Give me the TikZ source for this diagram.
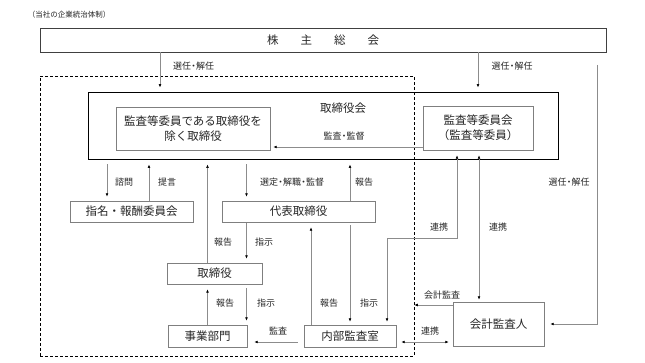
\documentclass[tikz,border=0pt]{standalone}
\usepackage{fontspec}
\setmainfont{Noto Sans CJK JP}
\usetikzlibrary{arrows.meta,calc}
\definecolor{boxgray}{HTML}{7F7F7F}
\definecolor{lingray}{HTML}{8C8C8C}
\definecolor{dark}{HTML}{404040}
\definecolor{txt}{HTML}{262626}
\newcommand\ndot{\kern-2pt・\kern-2pt}
\begin{document}
\begin{tikzpicture}[x=1pt,y=-1pt,
  >={Latex[length=3.4pt,width=2.8pt,color=black]},
  box/.style={draw=boxgray, line width=0.6pt, font=\fontsize{11.5}{15}\selectfont, text=txt, inner sep=0pt, align=center},
  lbl/.style={font=\fontsize{9}{10}\selectfont, text=txt, inner sep=0pt},
  arr/.style={draw=lingray, line width=0.6pt, ->},
  darr/.style={draw=lingray, line width=0.6pt, <->}]
\useasboundingbox (0,0) rectangle (645,363);
\fill[white] (0,0) rectangle (645,363);

% caption
\node[lbl, font=\fontsize{7.5}{9}\selectfont] (cap) at (69,15) {（当社の企業統治体制）};

% column / row helpers
\coordinate (x107) at (107,0);
\coordinate (x149) at (149,0);
\coordinate (x160) at (160,0);
\coordinate (x246) at (246.5,0);
\coordinate (x311) at (311,0);
\coordinate (x478) at (478,0);
\coordinate (x479) at (479,0);
\coordinate (y147) at (0,147);
\coordinate (y305) at (0,305);
\coordinate (y342) at (0,342);
\coordinate (k1) at (457,238);
\coordinate (k2) at (387,238);
\coordinate (rtop) at (597,65);

% dashed area
\node[draw=black, dash pattern=on 3pt off 2pt, line width=0.7pt, minimum width=374pt, minimum height=280pt, inner sep=0pt] (dash) at (227,216) {};

% boxes
\node[box, draw=dark, line width=0.9pt, minimum width=566pt, minimum height=24pt] (gm) at (323,40) {株\hspace{22pt}主\hspace{22pt}総\hspace{22pt}会};
\node[draw=black, line width=1pt, minimum width=470pt, minimum height=67pt, inner sep=0pt] (board) at (323,126.5) {};
\node[box, draw=none] (boardt) at (343,108) {取締役会};
\node[box, minimum width=154pt, minimum height=43pt] (inner) at (193,128.5) {監査等委員である取締役を\\除く取締役};
\node[box, minimum width=110pt, minimum height=44pt] (acc) at (478,128) {監査等委員会\\（監査等委員）};
\node[box, minimum width=123pt, minimum height=21pt] (nom) at (131.5,211.5) {指名・報酬委員会};
\node[box, minimum width=153pt, minimum height=21pt] (rep) at (298.5,211.5) {代表取締役};
\node[box, minimum width=95pt, minimum height=21pt] (dir) at (214.5,273.5) {取締役};
\node[box, minimum width=79pt, minimum height=22pt] (biz) at (207.5,336) {事業部門};
\node[box, minimum width=92pt, minimum height=22pt] (ia) at (350,336) {内部監査室};
\node[box, minimum width=91pt, minimum height=44pt] (ext) at (498.5,324) {会計監査人};

% connectors
\draw[arr, shorten >=5pt] (gm.south -| x160) -- (board.north -| x160);
\draw[arr, shorten >=5pt] (gm.south -| x478) -- (board.north -| x478);
\draw[arr, shorten >=6pt] (rtop) |- (ext.east);
\draw[arr, shorten >=3pt] (acc.west |- y147) -- (inner.east |- y147);
\draw[arr, shorten <=4pt, shorten >=4pt] (board.south -| x107) -- (nom.north -| x107);
\draw[arr, shorten >=4pt] (nom.north -| x149) -- (board.south -| x149);
\draw[arr, shorten >=4pt] (dir.north -| biz) -- (board.south -| biz);
\draw[arr, shorten <=4pt, shorten >=4pt] (board.south -| x246) -- (rep.north -| x246);
\draw[arr, shorten >=4pt] (rep.north -| ia) -- (board.south -| ia);
\draw[arr, shorten <=1pt, shorten >=4pt] (rep.south -| x246) -- (dir.north -| x246);
\draw[arr, shorten >=5pt] (biz.north) -- (dir.south -| biz);
\draw[arr, shorten <=4pt, shorten >=4pt] (dir.south -| x246) -- (biz.north -| x246);
\draw[arr, shorten <=6pt, shorten >=7pt] (ia.west |- y342) -- (biz.east |- y342);
\draw[arr, shorten >=5pt] (ia.north -| x311) -- (rep.south -| x311);
\draw[arr, shorten <=3pt, shorten >=3pt] (rep.south -| ia) -- (ia.north);
\draw[darr, shorten <=5pt, shorten >=3pt] (acc.south -| k1) -- (k1) -- (k2) -- (ia.north -| k2);
\draw[darr, shorten <=5pt, shorten >=2pt] (acc.south -| x479) -- (ext.north -| x479);
\draw[arr] (ext.west |- y305) -- (dash.east |- y305);
\draw[darr, shorten <=5pt, shorten >=4pt] (ia.east |- y342) -- (ext.west |- y342);

% labels
\node[lbl] (l1) at (193.5,66) {選任\ndot 解任};
\node[lbl] (l2) at (512,66) {選任\ndot 解任};
\node[lbl] (l3) at (569,182) {選任\ndot 解任};
\node[lbl] (l4) at (344,136) {監査\ndot 監督};
\node[lbl] (l5) at (124,182) {諮問};
\node[lbl] (l6) at (167,182) {提言};
\node[lbl] (l7) at (292,182) {選定\ndot 解職\ndot 監督};
\node[lbl] (l8) at (364,182) {報告};
\node[lbl] (l9) at (223,242) {報告};
\node[lbl] (l10) at (264,242) {指示};
\node[lbl] (l11) at (225,303) {報告};
\node[lbl] (l12) at (266,303) {指示};
\node[lbl] (l13) at (278,331) {監査};
\node[lbl] (l14) at (329,303) {報告};
\node[lbl] (l15) at (369,303) {指示};
\node[lbl] (l16) at (439,227) {連携};
\node[lbl] (l17) at (498,227) {連携};
\node[lbl] (l18) at (442,295) {会計監査};
\node[lbl] (l19) at (430,331) {連携};
\end{tikzpicture}
\end{document}
